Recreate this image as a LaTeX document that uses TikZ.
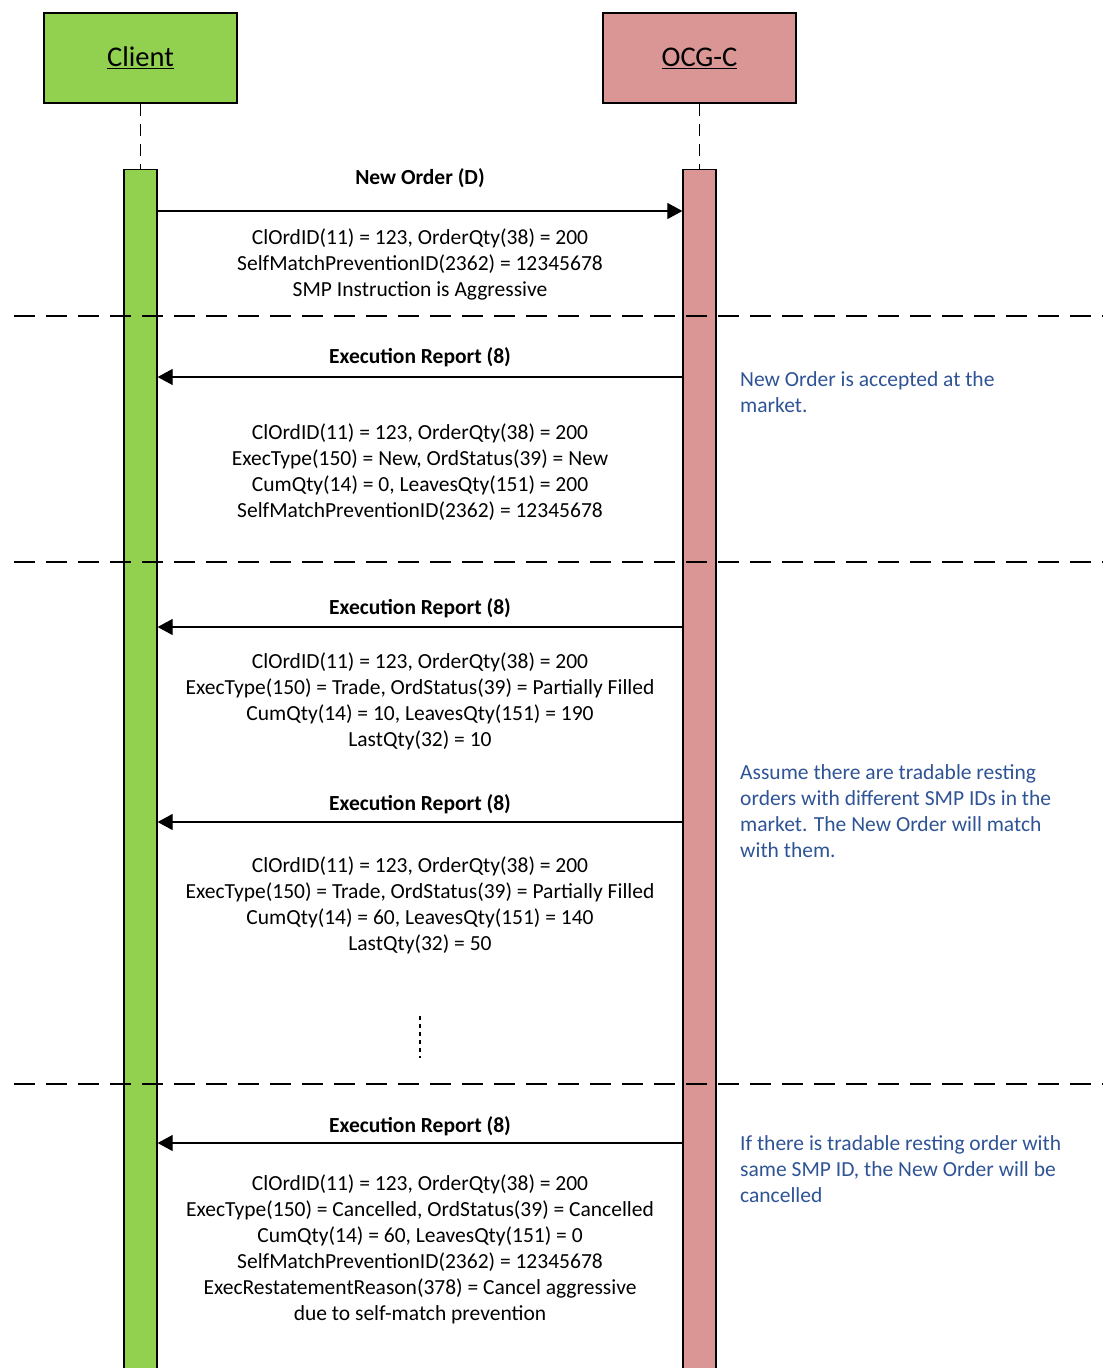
\documentclass[tikz,border=0pt]{standalone}
\usepackage{fontspec}
\setmainfont{Carlito}
\usetikzlibrary{arrows.meta}
\definecolor{cgreen}{RGB}{146,208,80}
\definecolor{cpink}{RGB}{217,150,148}
\definecolor{noteblue}{RGB}{47,84,150}
\begin{document}
\begin{tikzpicture}[x=1pt,y=-1pt,
  actor/.style={draw=black,line width=1.3pt,minimum width=193pt,minimum height=90pt,inner sep=0pt,font=\fontsize{28.5}{32}\selectfont},
  bar/.style={draw=black,line width=1.3pt},
  life/.style={line width=1.3pt,dash pattern=on 12pt off 8pt},
  sep/.style={line width=1.8pt,dash pattern=on 21pt off 11pt},
  msg/.style={line width=1.2pt,-{Triangle[length=15pt,width=16pt]}},
  lbl/.style={font=\fontsize{21.5}{26}\selectfont\bfseries,inner sep=0pt},
  txt/.style={font=\fontsize{21.5}{26}\selectfont,align=center,inner sep=0pt,anchor=north},
  note/.style={font=\fontsize{21.5}{26}\selectfont,text=noteblue,align=left,inner sep=0pt,anchor=north west}]
\useasboundingbox (0,0) rectangle (1103,1368);
\fill[white] (0,0) rectangle (1103,1368);
% actors
\node[actor,fill=cgreen] (client) at (140.5,58) {\underline{Client}};
\node[actor,fill=cpink] (ocg) at (699.5,58) {\underline{OCG-C}};
% activation bars
\node[bar,fill=cgreen,minimum width=33pt,minimum height=1210pt,inner sep=0pt,anchor=north] (cbar) at (140.5,169) {};
\node[bar,fill=cpink,minimum width=33pt,minimum height=1210pt,inner sep=0pt,anchor=north] (obar) at (699.5,169) {};
\draw[life] (client.south) -- (cbar.north);
\draw[life] (ocg.south) -- (obar.north);
% separators
\coordinate (s1l) at (14,316); \coordinate (s1r) at (1103,316);
\coordinate (s2l) at (14,562); \coordinate (s2r) at (1103,562);
\coordinate (s3l) at (14,1084); \coordinate (s3r) at (1103,1084);
\draw[sep] (s1l) -- (s1r);
\draw[sep] (s2l) -- (s2r);
\draw[sep] (s3l) -- (s3r);
% message y levels
\coordinate (m1) at (0,211);
\coordinate (m2) at (0,377);
\coordinate (m3) at (0,627);
\coordinate (m4) at (0,822);
\coordinate (m5) at (0,1143);
\draw[msg] (cbar.east |- m1) -- (obar.west |- m1);
\draw[msg] (obar.west |- m2) -- (cbar.east |- m2);
\draw[msg] (obar.west |- m3) -- (cbar.east |- m3);
\draw[msg] (obar.west |- m4) -- (cbar.east |- m4);
\draw[msg] (obar.west |- m5) -- (cbar.east |- m5);
% labels
\node[lbl] (l1) at (420,178) {New Order (D)};
\node[lbl] (l2) at (420,357) {Execution Report (8)};
\node[lbl] (l3) at (420,608) {Execution Report (8)};
\node[lbl] (l4) at (420,804) {Execution Report (8)};
\node[lbl] (l5) at (420,1126) {Execution Report (8)};
% texts
\node[txt] (t1) at (420,229) {ClOrdID(11) = 123, OrderQty(38) = 200\\SelfMatchPreventionID(2362) = 12345678\\SMP Instruction is Aggressive};
\node[txt] (t2) at (420,424) {ClOrdID(11) = 123, OrderQty(38) = 200\\ExecType(150) = New, OrdStatus(39) = New\\CumQty(14) = 0, LeavesQty(151) = 200\\SelfMatchPreventionID(2362) = 12345678};
\node[txt] (t3) at (420,653) {ClOrdID(11) = 123, OrderQty(38) = 200\\ExecType(150) = Trade, OrdStatus(39) = Partially Filled\\CumQty(14) = 10, LeavesQty(151) = 190\\LastQty(32) = 10};
\node[txt] (t4) at (420,857) {ClOrdID(11) = 123, OrderQty(38) = 200\\ExecType(150) = Trade, OrdStatus(39) = Partially Filled\\CumQty(14) = 60, LeavesQty(151) = 140\\LastQty(32) = 50};
\node[txt] (t5) at (420,1175) {ClOrdID(11) = 123, OrderQty(38) = 200\\ExecType(150) = Cancelled, OrdStatus(39) = Cancelled\\CumQty(14) = 60, LeavesQty(151) = 0\\SelfMatchPreventionID(2362) = 12345678\\ExecRestatementReason(378) = Cancel aggressive\\due to self-match prevention};
% dots
\coordinate (d1) at (420,1016); \coordinate (d2) at (420,1058);
\draw[line width=2.2pt,dash pattern=on 4pt off 4pt] (d1) -- (d2);
% notes
\node[note] (n1) at (740,371) {New Order is accepted at the\\market.};
\node[note] (n2) at (740,764) {Assume there are tradable resting\\orders with different SMP IDs in the\\market. The New Order will match\\with them.};
\node[note] (n3) at (740,1135) {If there is tradable resting order with\\same SMP ID, the New Order will be\\cancelled};
\end{tikzpicture}
\end{document}
